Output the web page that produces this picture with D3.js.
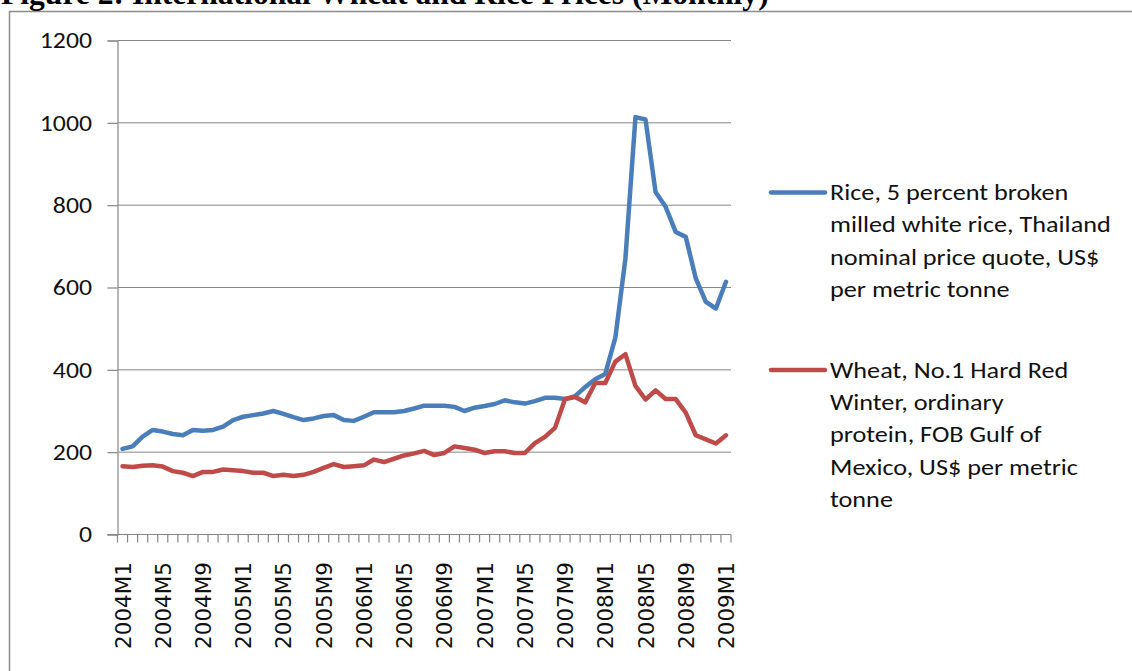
<!DOCTYPE html>
<html>
<head>
<meta charset="utf-8">
<script src="https://cdn.jsdelivr.net/npm/d3@7"></script>
<style>
  html, body { margin: 0; padding: 0; background: #fff; overflow: hidden; }
  svg { display: block; }
</style>
</head>
<body>
<svg id="chart" width="1132" height="671"></svg>
<script>
// Monthly categories, 2004M1 .. 2009M1
const months = [
  "2004M1","2004M2","2004M3","2004M4","2004M5","2004M6","2004M7","2004M8","2004M9","2004M10","2004M11","2004M12",
  "2005M1","2005M2","2005M3","2005M4","2005M5","2005M6","2005M7","2005M8","2005M9","2005M10","2005M11","2005M12",
  "2006M1","2006M2","2006M3","2006M4","2006M5","2006M6","2006M7","2006M8","2006M9","2006M10","2006M11","2006M12",
  "2007M1","2007M2","2007M3","2007M4","2007M5","2007M6","2007M7","2007M8","2007M9","2007M10","2007M11","2007M12",
  "2008M1","2008M2","2008M3","2008M4","2008M5","2008M6","2008M7","2008M8","2008M9","2008M10","2008M11","2008M12",
  "2009M1"
];

// Rice, Thai 5% broken, US$ per metric tonne
const rice = [
  208, 214, 238, 254, 250, 244, 241, 254, 252, 254, 262, 278,
  286, 290, 294, 300, 293, 285, 278, 282, 288, 290, 278, 276,
  286, 297, 297, 297, 300, 306, 313, 313, 313, 310, 300, 308,
  312, 317, 326, 321, 318, 324, 332, 332, 329, 336, 358, 377,
  390, 478, 670, 1014, 1008, 832, 796, 735, 723, 622, 565, 549,
  614
];

// Wheat, No.1 HRW, FOB Gulf of Mexico, US$ per metric tonne
const wheat = [
  166, 164, 167, 168, 165, 154, 150, 142, 152, 152, 158, 156,
  154, 150, 150, 142, 145, 142, 145, 152, 162, 171, 164, 166,
  168, 182, 176, 184, 192, 197, 203, 193, 198, 214, 210, 206,
  198, 202, 202, 198, 198, 222, 237, 259, 329, 334, 321, 368,
  368, 420, 438, 361, 328, 350, 329, 329, 296, 241, 231, 221,
  241
];

// Y-axis ticks
const yTicks = [0, 200, 400, 600, 800, 1000, 1200];

// Every fourth month carries a label
const labelEvery = 4;

const seriesNames = [
  ["Rice, 5 percent broken", "milled white rice, Thailand", "nominal price quote, US$", "per metric tonne"],
  ["Wheat, No.1 Hard Red", "Winter, ordinary", "protein, FOB Gulf of", "Mexico, US$ per metric", "tonne"]
];
const seriesColors = ["#4a7ebb", "#be4b48"];

const svg = d3.select("#chart");

// Outer frame of the chart object
svg.append("rect")
  .attr("x", 9.5).attr("y", 11.5)
  .attr("width", 1200).attr("height", 800)
  .attr("fill", "none")
  .attr("stroke", "#8c8c8c")
  .attr("stroke-width", 1.5);

// Caption (runs off the top edge of the page)
const title = svg.append("text")
  .attr("x", 1).attr("y", 4)
  .attr("font-family", "'Liberation Serif', 'Times New Roman', serif")
  .attr("font-weight", "bold")
  .attr("font-size", 27)
  .attr("fill", "#000")
  .text("Figure 2: International Wheat and Rice Prices (Monthly)");
const tw = title.node().getComputedTextLength();
title.attr("font-size", 27 * 768 / tw);

const plotLeft = 117.5, plotRight = 731, yBottom = 534.5, yTop = 40.5;

const x = d3.scaleBand()
  .domain(months)
  .range([plotLeft, plotRight])
  .paddingInner(0).paddingOuter(0);

const y = d3.scaleLinear()
  .domain([0, 1200])
  .range([yBottom, yTop]);

const gridColor = "#868686";

// Horizontal gridlines
svg.append("g")
  .selectAll("line")
  .data(yTicks.filter(d => d > 0))
  .join("line")
  .attr("x1", plotLeft).attr("x2", plotRight)
  .attr("y1", d => y(d)).attr("y2", d => y(d))
  .attr("stroke", gridColor)
  .attr("stroke-width", 1);

// Y axis
const yStretch = 1.12;
const yAxis = d3.axisLeft(y)
  .tickValues(yTicks)
  .tickSize(10)
  .tickPadding(15)
  .tickFormat(d3.format("d"));
const gy = svg.append("g")
  .attr("transform", `translate(${plotLeft},0)`)
  .call(yAxis);
gy.select(".domain").attr("stroke", gridColor).attr("stroke-width", 1.2);
gy.selectAll(".tick line").attr("stroke", gridColor).attr("stroke-width", 1.2);
gy.selectAll(".tick text")
  .attr("x", -25.5 / yStretch)
  .attr("transform", `scale(${yStretch},1)`)
  .attr("font-family", "Carlito, Lato, sans-serif")
  .attr("font-size", 23)
  .attr("fill", "#111");

// X axis baseline and category boundary ticks
const gx = svg.append("g");
gx.append("line")
  .attr("x1", plotLeft - 10).attr("x2", plotRight)
  .attr("y1", yBottom).attr("y2", yBottom)
  .attr("stroke", gridColor).attr("stroke-width", 1.2);
const boundaries = months.map(m => x(m)).concat([x(months[months.length - 1]) + x.bandwidth()]);
gx.selectAll("line.tk")
  .data(boundaries)
  .join("line")
  .attr("class", "tk")
  .attr("x1", d => d).attr("x2", d => d)
  .attr("y1", yBottom).attr("y2", yBottom + 8)
  .attr("stroke", gridColor).attr("stroke-width", 1.2);

// Rotated month labels
gx.selectAll("text")
  .data(months.filter((m, i) => i % labelEvery === 0))
  .join("text")
  .attr("transform", d => `translate(${x(d) + x.bandwidth() / 2 + 0.5},562) rotate(-90)`)
  .attr("text-anchor", "end")
  .attr("dominant-baseline", "central")
  .attr("font-family", "'DejaVu Sans', Verdana, sans-serif")
  .attr("font-size", 21.5)
  .attr("fill", "#111")
  .text(d => d);

// Series lines
const line = d3.line()
  .x((d, i) => x(months[i]) + x.bandwidth() / 2)
  .y(d => y(d))
  .curve(d3.curveLinear);

[rice, wheat].forEach((vals, k) => {
  svg.append("path")
    .datum(vals)
    .attr("fill", "none")
    .attr("stroke", seriesColors[k])
    .attr("stroke-width", 4.5)
    .attr("stroke-linejoin", "round")
    .attr("stroke-linecap", "round")
    .attr("d", line);
});

// Legend
const legendTops = [192.5, 370];
const lineGap = 32.4;
const legendStretch = 1.22;
seriesNames.forEach((lines, k) => {
  const g = svg.append("g");
  g.append("line")
    .attr("x1", 771).attr("x2", 825)
    .attr("y1", legendTops[k]).attr("y2", legendTops[k])
    .attr("stroke", seriesColors[k])
    .attr("stroke-width", 4.5)
    .attr("stroke-linecap", "round");
  g.selectAll("text")
    .data(lines)
    .join("text")
    .attr("transform", (d, i) => `translate(830,${legendTops[k] + 7.5 + i * lineGap}) scale(${legendStretch},1)`)
    .attr("font-family", "Carlito, Lato, sans-serif")
    .attr("font-size", 21.5)
    .attr("fill", "#111")
    .text(d => d);
});
</script>
</body>
</html>
